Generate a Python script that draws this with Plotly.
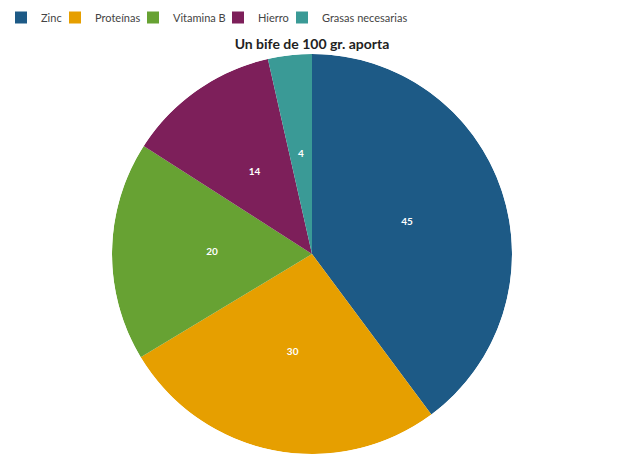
import plotly.graph_objects as go

categories = ["Zinc", "Proteínas", "Vitamina B", "Hierro", "Grasas necesarias"]
values = [45, 30, 20, 14, 4]
colors = ["#1d5a86", "#e69f00", "#67a233", "#7d1f5a", "#3a9a96"]

# the page body adds an 8px offset; compensate in layout
OFF = 8
# screen x (px) of each legend swatch's left edge
legend_swatch_px = [17, 71, 149, 234, 298]

total = sum(values)
spans = [v / total * 360 for v in values]
mids = []
acc = 0
for s in spans:
    mids.append(acc + s / 2)
    acc += s

top = 54 - OFF
left = 112 - OFF

fig = go.Figure()
legend_layouts = {}
for i, (cat, val, col, mid, span) in enumerate(zip(categories, values, colors, mids, spans)):
    lname = "legend" if i == 0 else f"legend{i + 1}"
    fig.add_trace(go.Barpolar(
        name=cat, r=[1], theta=[mid], width=[span], base=0,
        marker=dict(color=col, line=dict(width=0)),
        hovertemplate=f"{cat}: {val}<extra></extra>",
        legend=lname,
    ))
    legend_layouts[lname] = dict(
        orientation="h",
        x=(legend_swatch_px[i] - 16 - OFF - left) / 400, xanchor="left",
        y=1 + (top + 5) / 400, yanchor="top",
        font=dict(size=11, color="#444444", family="Lato"),
        itemsizing="constant", bgcolor="rgba(0,0,0,0)",
    )

fig.add_trace(go.Scatterpolar(
    r=[0.5] * len(values), theta=mids, mode="text",
    text=[f"<b>{v}</b>" for v in values],
    textfont=dict(color="white", size=10, family="Lato"),
    showlegend=False, hoverinfo="skip",
))

fig.update_layout(
    width=620, height=464,
    margin=dict(l=left, r=620 - left - 400, t=top, b=464 - top - 400, autoexpand=False),
    paper_bgcolor="white",
    font=dict(family="Lato", color="#333333"),
    polar=dict(
        domain=dict(x=[0, 1], y=[0, 1]),
        bgcolor="rgba(0,0,0,0)",
        radialaxis=dict(range=[0, 1], visible=False, showgrid=False),
        angularaxis=dict(rotation=90, direction="clockwise", visible=False, showgrid=False),
    ),
    title=dict(text="<b>Un bife de 100 gr. aporta</b>", x=(312 - OFF) / 620, xanchor="center",
               y=1 - (44 - OFF) / 464, yanchor="middle", font=dict(size=14, color="#222222")),
    **legend_layouts,
)

fig.write_html("out.html")
